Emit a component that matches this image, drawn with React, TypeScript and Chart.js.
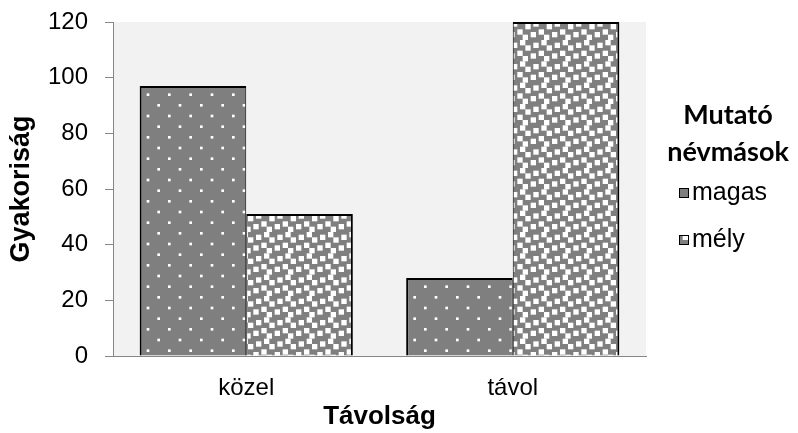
import React, { useEffect, useRef } from "react";
import { Chart, registerables } from "chart.js";

Chart.register(...registerables);

const categories = ["közel", "távol"];
const seriesNames = ["magas", "mély"];
const magasValues = [97, 28];
const melyValues = [51, 120];
const yMin = 0;
const yMax = 120;
const yStep = 20;
const xTitle = "Távolság";
const yTitle = "Gyakoriság";
const legendTitle = ["Mutató", "névmások"];

const FONT = "'Liberation Sans', Arial, sans-serif";
const LEGEND_TITLE_FONT = "Lato, 'Open Sans', sans-serif";

function makePattern(kind: "dots" | "confetti"): CanvasPattern | string {
  const c = document.createElement("canvas");
  c.width = 64;
  c.height = 64;
  const g = c.getContext("2d");
  if (!g) return "#7f7f7f";
  g.fillStyle = "#7f7f7f";
  g.fillRect(0, 0, 64, 64);
  g.fillStyle = "#ffffff";
  const u = 64 / 24;
  const dotCells = [
    [7, 3],
    [3, 7],
  ];
  const blockCells = [
    [0, 0],
    [5, 1],
    [2, 3],
    [7, 4],
    [4, 5],
    [3, 7],
  ];
  const cells = kind === "dots" ? dotCells : blockCells;
  const size = kind === "dots" ? u : 2 * u;
  for (let i = -1; i <= 3; i++) {
    for (let j = -1; j <= 3; j++) {
      for (const [x, y] of cells) {
        g.fillRect((i * 8 + x) * u, (j * 8 + y) * u, size, size);
      }
    }
  }
  const p = g.createPattern(c, "repeat");
  return p || "#7f7f7f";
}

export default function App() {
  const canvasRef = useRef<HTMLCanvasElement | null>(null);

  useEffect(() => {
    const canvas = canvasRef.current;
    if (!canvas) return;
    const dots = makePattern("dots");
    const confetti = makePattern("confetti");

    const bgPlugin = {
      id: "plotBg",
      beforeDraw(chart: any) {
        const { ctx, chartArea } = chart;
        ctx.save();
        ctx.fillStyle = "#f2f2f2";
        ctx.fillRect(
          chartArea.left,
          chartArea.top,
          chartArea.right - chartArea.left,
          chartArea.bottom - chartArea.top
        );
        ctx.restore();
      },
    };

    const legendPlugin = {
      id: "customLegend",
      afterDraw(chart: any) {
        const { ctx } = chart;
        ctx.save();
        const cx = 728;
        ctx.fillStyle = "#000";
        ctx.textAlign = "center";
        ctx.textBaseline = "middle";
        ctx.font = `bold 27px ${LEGEND_TITLE_FONT}`;
        ctx.fillText(legendTitle[0], cx, 115);
        ctx.fillText(legendTitle[1], cx, 152);
        const ys = [193, 240];
        chart.data.datasets.forEach((ds: any, i: number) => {
          const y = ys[i];
          ctx.fillStyle = ds.backgroundColor;
          ctx.fillRect(679, y - 5, 10, 10);
          ctx.strokeStyle = "#000";
          ctx.lineWidth = 1;
          ctx.strokeRect(679.5, y - 4.5, 9, 9);
          ctx.fillStyle = "#000";
          ctx.textAlign = "left";
          ctx.font = `25px ${FONT}`;
          ctx.fillText(ds.label, 692, y);
        });
        ctx.restore();
      },
    };

    const zeroPad = (s: any) => {
      s.paddingTop = 0;
      s.paddingBottom = 0;
      s.paddingLeft = 0;
      s.paddingRight = 0;
    };

    const chart = new Chart(canvas, {
      type: "bar",
      data: {
        labels: categories,
        datasets: [
          {
            label: seriesNames[0],
            data: magasValues,
            backgroundColor: dots as any,
            borderColor: "#000",
            borderWidth: { top: 2, left: 2, right: 1, bottom: 0 } as any,
            borderSkipped: false,
            categoryPercentage: 0.8,
            barPercentage: 1,
          },
          {
            label: seriesNames[1],
            data: melyValues,
            backgroundColor: confetti as any,
            borderColor: "#000",
            borderWidth: { top: 2, left: 1, right: 2, bottom: 0 } as any,
            borderSkipped: false,
            categoryPercentage: 0.8,
            barPercentage: 1,
          },
        ],
      },
      options: {
        responsive: false,
        animation: false,
        layout: { padding: { top: 22, right: 152, left: 0, bottom: 0 } },
        plugins: {
          legend: { display: false },
          tooltip: { enabled: false },
        },
        scales: {
          x: {
            type: "category",
            grid: { display: false, drawTicks: false },
            border: { display: true, color: "#868686", width: 1 },
            ticks: {
              color: "#000",
              font: { family: FONT, size: 24 },
              padding: 18,
            },
            title: {
              display: true,
              text: xTitle,
              color: "#000",
              font: { family: FONT, size: 26, weight: "bold" },
              padding: { top: 0, bottom: 1 },
            },
            afterFit: (s: any) => {
              s.height = 77;
              zeroPad(s);
            },
          },
          y: {
            min: yMin,
            max: yMax,
            ticks: {
              stepSize: yStep,
              color: "#000",
              font: { family: FONT, size: 24 },
              padding: 17,
            },
            grid: {
              drawOnChartArea: false,
              drawTicks: true,
              tickLength: 8,
              color: "#868686",
            },
            border: { display: true, color: "#868686", width: 1 },
            title: {
              display: true,
              text: yTitle,
              color: "#000",
              font: { family: FONT, size: 27, weight: "bold" },
              padding: { top: 5, bottom: 0 },
            },
            afterFit: (s: any) => {
              s.width = 113;
              zeroPad(s);
            },
          },
        },
      },
      plugins: [bgPlugin, legendPlugin],
    } as any);

    return () => {
      chart.destroy();
    };
  }, []);

  return (
    <div style={{ position: "absolute", left: 0, top: 0, width: 798, height: 433, background: "#fff" }}>
      <canvas ref={canvasRef} width={798} height={433} style={{ display: "block" }} />
    </div>
  );
}
